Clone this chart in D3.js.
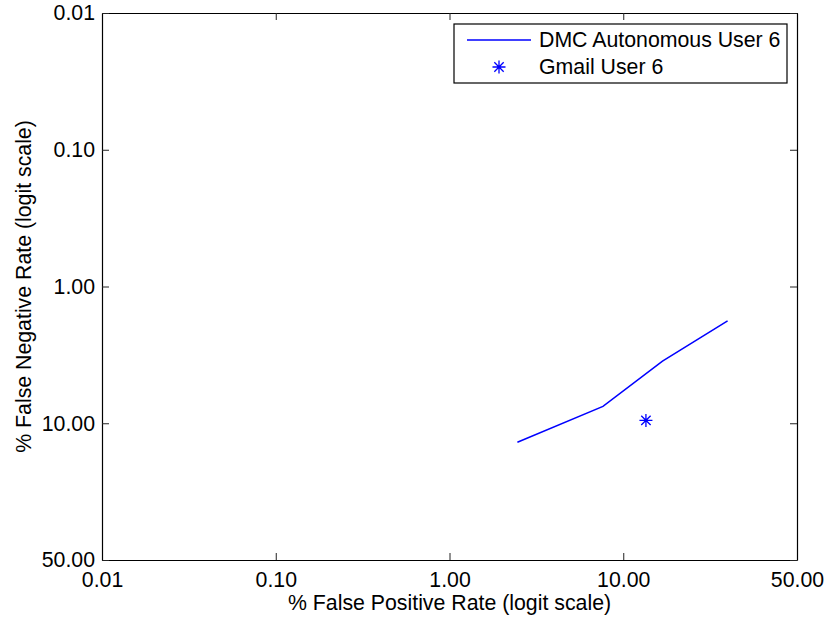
<!DOCTYPE html>
<html>
<head>
<meta charset="utf-8">
<script src="https://cdn.jsdelivr.net/npm/d3@7"></script>
<style>
  html, body { margin: 0; padding: 0; background: #fff; }
  svg { display: block; font-family: "Liberation Sans", Arial, Helvetica, sans-serif; }
</style>
</head>
<body>
<svg id="chart" width="828" height="621"></svg>
<script>
// Axis limits (percent) and the labels written at the five evenly spaced ticks
const axisLimits = [0.01, 50];
const tickLabels = ["0.01", "0.10", "1.00", "10.00", "50.00"];

// DMC Autonomous User 6 operating curve (percent)
const dmcFalsePositive = [2.4, 7.1, 14.4, 28.5];
const dmcFalseNegative = [12.1, 7.0, 3.4, 1.75];

// Gmail User 6 single operating point (percent)
const gmailFalsePositive = [11.9];
const gmailFalseNegative = [8.7];

const seriesNames = ["DMC Autonomous User 6", "Gmail User 6"];

const logit = pct => { const p = pct / 100; return Math.log(p / (1 - p)); };

const margin = { left: 102, right: 797, top: 13, bottom: 560 };
const svg = d3.select("#chart");

const domain = axisLimits.map(logit);
const x = d3.scaleLinear().domain(domain).range([margin.left, margin.right]);
const y = d3.scaleLinear().domain(domain).range([margin.top, margin.bottom]);

// five ticks spread evenly over the logit range
const tickVals = tickLabels.map((_, i) => domain[0] + i * (domain[1] - domain[0]) / (tickLabels.length - 1));
const labelOf = (v, i) => tickLabels[i];
const tickLen = 7;
const fontSize = 21.3;
const fontFamily = '"Liberation Sans", Arial, Helvetica, sans-serif';

svg.append("rect")
  .attr("x", margin.left).attr("y", margin.top)
  .attr("width", margin.right - margin.left)
  .attr("height", margin.bottom - margin.top)
  .attr("fill", "#fff");

function styleAxis(g) {
  g.select(".domain").attr("stroke", "#000").attr("stroke-width", 1.2);
  g.selectAll(".tick line").attr("stroke", "#222").attr("stroke-width", 1);
  g.selectAll(".tick text").attr("fill", "#000")
    .style("font-size", fontSize + "px").style("font-family", fontFamily);
}

// bottom axis with labels
svg.append("g")
  .attr("transform", `translate(0,${margin.bottom})`)
  .call(d3.axisBottom(x).tickValues(tickVals).tickFormat(labelOf)
    .tickSizeInner(-tickLen).tickSizeOuter(0).tickPadding(12))
  .call(styleAxis);

// top axis, ticks only
svg.append("g")
  .attr("transform", `translate(0,${margin.top})`)
  .call(d3.axisTop(x).tickValues(tickVals).tickFormat("")
    .tickSizeInner(-tickLen).tickSizeOuter(0))
  .call(styleAxis);

// left axis with labels
svg.append("g")
  .attr("transform", `translate(${margin.left},0)`)
  .call(d3.axisLeft(y).tickValues(tickVals).tickFormat(labelOf)
    .tickSizeInner(-tickLen).tickSizeOuter(0).tickPadding(7))
  .call(styleAxis);

// right axis, ticks only
svg.append("g")
  .attr("transform", `translate(${margin.right},0)`)
  .call(d3.axisRight(y).tickValues(tickVals).tickFormat("")
    .tickSizeInner(-tickLen).tickSizeOuter(0))
  .call(styleAxis);

// axis titles
svg.append("text")
  .attr("x", (margin.left + margin.right) / 2)
  .attr("y", 610)
  .attr("text-anchor", "middle")
  .style("font-size", fontSize + "px")
  .text("% False Positive Rate (logit scale)");

svg.append("text")
  .attr("transform", `translate(31,${(margin.top + margin.bottom) / 2}) rotate(-90)`)
  .attr("text-anchor", "middle")
  .style("font-size", fontSize + "px")
  .text("% False Negative Rate (logit scale)");

const blue = "#0000ff";

// DMC curve
const dmcPoints = dmcFalsePositive.map((fp, i) => [fp, dmcFalseNegative[i]]);
svg.append("path")
  .datum(dmcPoints)
  .attr("fill", "none")
  .attr("stroke", blue)
  .attr("stroke-width", 1.5)
  .attr("d", d3.line().x(d => x(logit(d[0]))).y(d => y(logit(d[1]))));

// asterisk marker
function asterisk(sel, r) {
  const k = r * 0.72;
  const d = `M${-r},0L${r},0M0,${-r}L0,${r}M${-k},${-k}L${k},${k}M${-k},${k}L${k},${-k}`;
  sel.append("path").attr("d", d).attr("stroke", blue).attr("stroke-width", 1.3).attr("fill", "none");
}

const gmailPoints = gmailFalsePositive.map((fp, i) => [fp, gmailFalseNegative[i]]);
svg.selectAll("g.gmail")
  .data(gmailPoints)
  .join("g")
  .attr("class", "gmail")
  .attr("transform", d => `translate(${x(logit(d[0]))},${y(logit(d[1]))})`)
  .each(function () { asterisk(d3.select(this), 6.5); });

// legend
const legend = svg.append("g");
legend.append("rect")
  .attr("x", 454).attr("y", 24).attr("width", 333).attr("height", 59)
  .attr("fill", "#fff").attr("stroke", "#000").attr("stroke-width", 1.2);
legend.append("line")
  .attr("x1", 467).attr("x2", 531).attr("y1", 40).attr("y2", 40)
  .attr("stroke", blue).attr("stroke-width", 1.5);
legend.append("g").attr("transform", "translate(499,67)").call(asterisk, 6.5);
legend.selectAll("text")
  .data(seriesNames)
  .join("text")
  .attr("x", 539)
  .attr("y", (d, i) => 47 + i * 27)
  .style("font-size", fontSize + "px")
  .text(d => d);
</script>
</body>
</html>
